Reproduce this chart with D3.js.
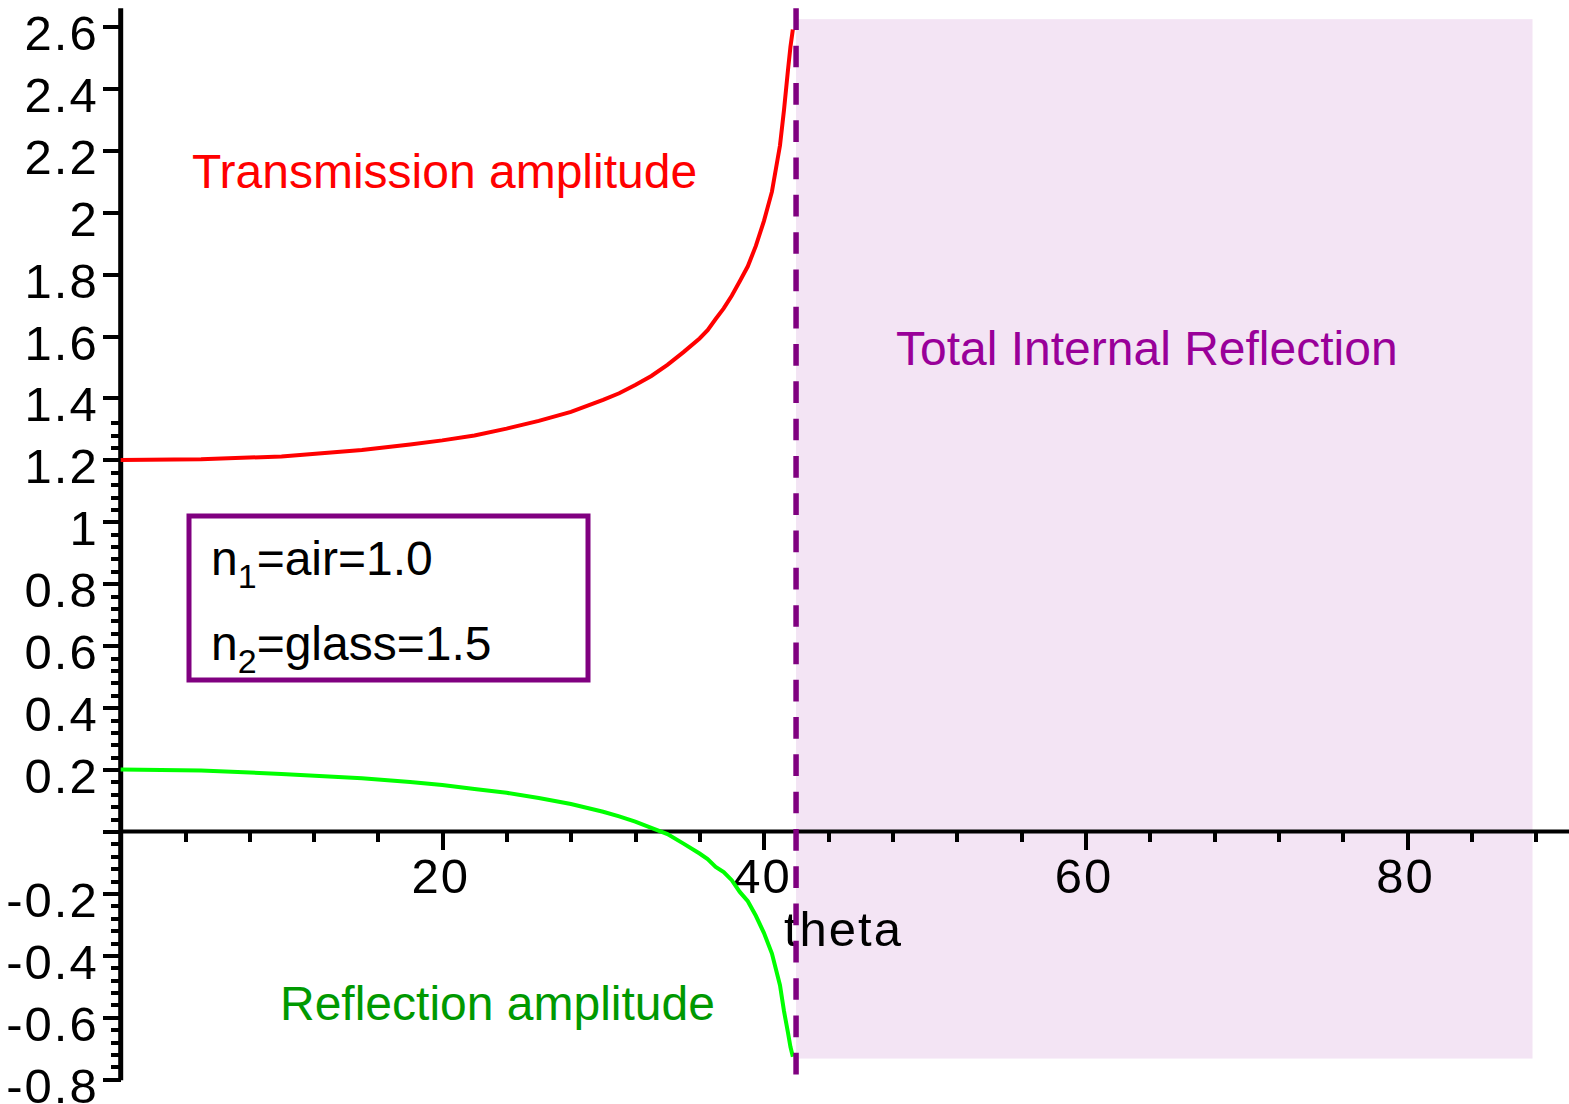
<!DOCTYPE html>
<meta charset="utf-8">
<head>
<style>
  body { margin: 0; background: #fff; }
  .axis path, .axis line { stroke: #000; shape-rendering: crispEdges; }
  .tick text { font-family: "Liberation Sans", Arial, sans-serif; font-size: 49px; fill: #000; letter-spacing: 2px; }
  .label { font-family: "Liberation Sans", Arial, sans-serif; font-size: 48px; }
</style>
</head>
<body>
<div id="graph"></div>
<script src="https://d3js.org/d3.v7.min.js"></script>
<script>

// angle of incidence (degrees)
var theta        = [0, 5, 10, 15, 18, 20, 22, 24, 26, 28, 30, 31, 32, 33, 34, 35, 36, 36.5, 37, 37.5,
                    38, 38.5, 39, 39.5, 40, 40.5, 41, 41.25, 41.5, 41.65, 41.8];
var transmission = [1.200, 1.202, 1.211, 1.232, 1.250, 1.263, 1.279, 1.301, 1.326, 1.355, 1.394, 1.415,
                    1.442, 1.471, 1.507, 1.548, 1.592, 1.619, 1.655, 1.689, 1.730, 1.777, 1.825, 1.891,
                    1.971, 2.066, 2.215, 2.330, 2.460, 2.533, 2.590];
var reflection   = [0.200, 0.197, 0.186, 0.172, 0.160, 0.150, 0.137, 0.125, 0.108, 0.089, 0.064, 0.049,
                    0.032, 0.012, -0.008, -0.039, -0.071, -0.089, -0.114, -0.131, -0.157, -0.195, -0.225,
                    -0.272, -0.327, -0.394, -0.496, -0.580, -0.650, -0.695, -0.727];

// total internal reflection region
var criticalAngle = 42.0;
var tirX = [42.0, 87.8];
var tirY = [-0.733, 2.623];

var xTickValues = [20, 40, 60, 80];
var xTickLabels = ["20", "40", "60", "80"];
var yTickValues = [-0.8, -0.6, -0.4, -0.2, 0, 0.2, 0.4, 0.6, 0.8, 1, 1.2, 1.4, 1.6, 1.8, 2, 2.2, 2.4, 2.6];
var yTickLabels = ["-0.8", "-0.6", "-0.4", "-0.2", "", "0.2", "0.4", "0.6", "0.8", "1", "1.2", "1.4",
                   "1.6", "1.8", "2", "2.2", "2.4", "2.6"];

var W = 1569, H = 1104;

var svg = d3.select("#graph").append("svg")
  .attr("width", W)
  .attr("height", H);

var x = d3.scaleLinear().domain([0, 90]).range([120.7, 120.7 + 16.08 * 90]);
var y = d3.scaleLinear().domain([-0.8, 2.6]).range([1079.3, 26.3]);

// shaded region
svg.append("rect")
  .attr("x", x(tirX[0]))
  .attr("y", y(tirY[1]))
  .attr("width", x(tirX[1]) - x(tirX[0]))
  .attr("height", y(tirY[0]) - y(tirY[1]))
  .attr("fill", "#f3e4f4");

// minor ticks
var xMinor = d3.range(4, 89, 4).filter(function(d){ return d % 20 != 0; });
var yMinor = d3.range(-40, 67, 2).map(function(d){ return d / 50; })
  .filter(function(d){ return Math.abs(Math.round(d * 50) % 10) != 0; });

svg.append("g")
  .attr("class", "axis")
  .attr("transform", "translate(0," + y(0) + ")")
  .call(d3.axisBottom(x).tickValues(xMinor).tickSize(10).tickFormat(""))
  .call(function(g){ g.select(".domain").remove(); })
  .selectAll("line").attr("stroke-width", 4);

svg.append("g")
  .attr("class", "axis")
  .attr("transform", "translate(" + x(0) + ",0)")
  .call(d3.axisLeft(y).tickValues(yMinor).tickSize(10).tickFormat(""))
  .call(function(g){ g.select(".domain").remove(); })
  .selectAll("line").attr("stroke-width", 4);

// major ticks + labels
var xAxis = svg.append("g")
  .attr("class", "axis")
  .attr("transform", "translate(0," + y(0) + ")")
  .call(d3.axisBottom(x).tickValues(xTickValues).tickSize(18)
    .tickFormat(function(d, i){ return xTickLabels[i]; }))
  .call(function(g){ g.select(".domain").remove(); });
xAxis.selectAll("line").attr("stroke-width", 4);
xAxis.selectAll("text").attr("dy", null).attr("y", 61).attr("x", -2);

var yAxis = svg.append("g")
  .attr("class", "axis")
  .attr("transform", "translate(" + x(0) + ",0)")
  .call(d3.axisLeft(y).tickValues(yTickValues).tickSize(18)
    .tickFormat(function(d, i){ return yTickLabels[i]; }))
  .call(function(g){ g.select(".domain").remove(); });
yAxis.selectAll("line").attr("stroke-width", 4);
yAxis.selectAll("text").attr("dy", null).attr("y", 23).attr("x", -22);

// axis lines
svg.append("line")
  .attr("x1", x(0)).attr("x2", W)
  .attr("y1", y(0)).attr("y2", y(0))
  .attr("stroke", "#000").attr("stroke-width", 4);
svg.append("line")
  .attr("x1", x(0)).attr("x2", x(0))
  .attr("y1", y(-0.8) + 1).attr("y2", y(2.658))
  .attr("stroke", "#000").attr("stroke-width", 5);

// curves
var line = d3.line()
  .x(function(d){ return x(d[0]); })
  .y(function(d){ return y(d[1]); });

svg.append("path")
  .datum(d3.zip(theta, transmission))
  .attr("fill", "none")
  .attr("stroke", "#ff0000")
  .attr("stroke-width", 4)
  .attr("d", line);

svg.append("path")
  .datum(d3.zip(theta, reflection))
  .attr("fill", "none")
  .attr("stroke", "#00ff00")
  .attr("stroke-width", 4)
  .attr("d", line);

// text labels
svg.append("text").attr("class", "label")
  .attr("x", 192).attr("y", 188)
  .attr("fill", "#ff0000")
  .text("Transmission amplitude");

svg.append("text").attr("class", "label")
  .attr("x", 896).attr("y", 365)
  .attr("fill", "#990099")
  .text("Total Internal Reflection");

svg.append("text").attr("class", "label")
  .attr("x", 280).attr("y", 1020)
  .attr("fill", "#009900")
  .text("Reflection amplitude");

svg.append("text")
  .attr("x", 784).attr("y", 946)
  .attr("font-family", "Liberation Sans, Arial, sans-serif")
  .attr("font-size", 49)
  .attr("letter-spacing", 2)
  .attr("fill", "#000")
  .text("theta");

// box
svg.append("rect")
  .attr("x", 189).attr("y", 516)
  .attr("width", 399).attr("height", 164)
  .attr("fill", "none")
  .attr("stroke", "#800080")
  .attr("stroke-width", 5);

var t1 = svg.append("text").attr("class", "label").attr("x", 211).attr("y", 575).attr("fill", "#000");
t1.append("tspan").text("n");
t1.append("tspan").attr("font-size", 34).attr("dy", 13).text("1");
t1.append("tspan").attr("dy", -13).text("=air=1.0");

var t2 = svg.append("text").attr("class", "label").attr("x", 211).attr("y", 660).attr("fill", "#000");
t2.append("tspan").text("n");
t2.append("tspan").attr("font-size", 34).attr("dy", 13).text("2");
t2.append("tspan").attr("dy", -13).text("=glass=1.5");

// dashed critical angle line
svg.append("line")
  .attr("x1", x(criticalAngle)).attr("x2", x(criticalAngle))
  .attr("y1", y(2.658)).attr("y2", y(-0.786))
  .attr("stroke", "#800080")
  .attr("stroke-width", 5.5)
  .attr("stroke-dasharray", "21.7,15.6");

</script>
</body>
</html>
